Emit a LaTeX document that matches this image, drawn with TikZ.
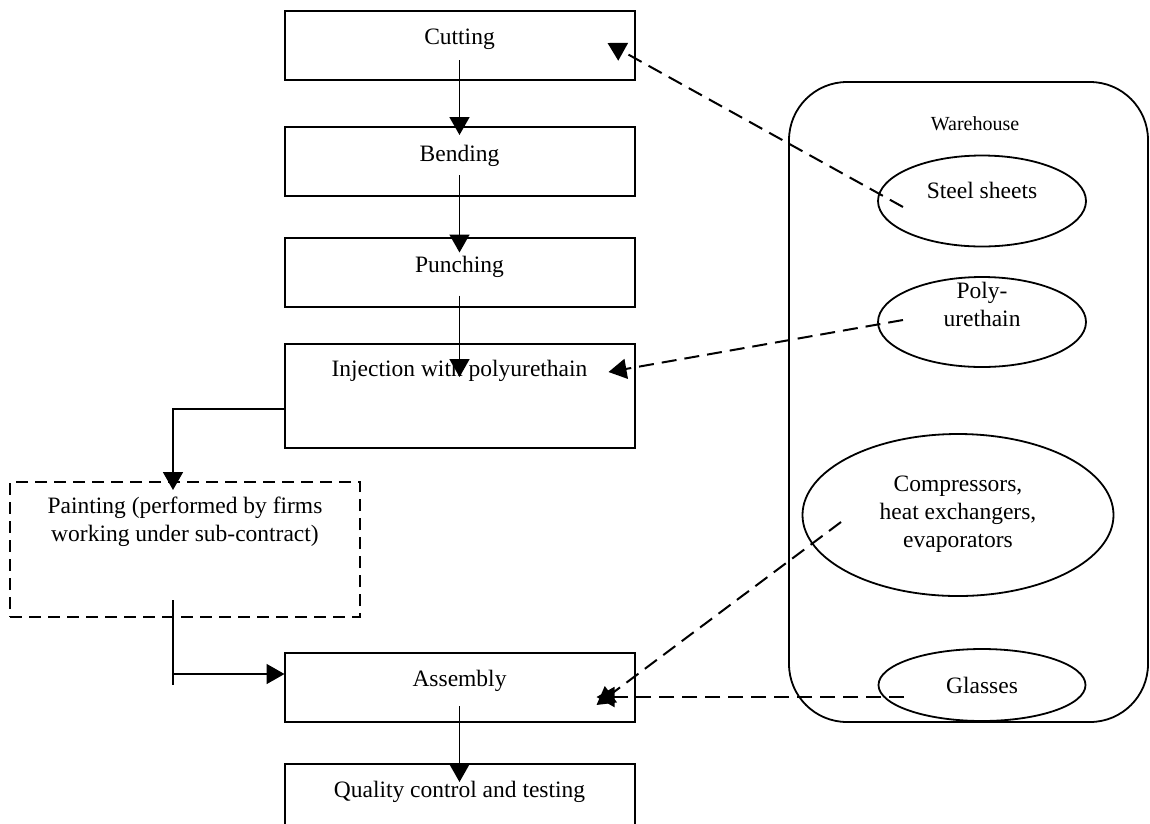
\documentclass[tikz,border=0pt]{standalone}
\usepackage{fontspec}
\setmainfont{Liberation Serif}
\usetikzlibrary{arrows.meta,shapes.geometric,calc}
\begin{document}
\begin{tikzpicture}[x=1pt,y=-1pt,
  box/.style={draw,line width=2pt,minimum width=350pt,minimum height=69pt,inner sep=0pt,outer sep=0pt},
  lbl/.style={font=\fontsize{23.5}{28}\selectfont,align=center,inner sep=0pt,anchor=base},
  small/.style={font=\fontsize{20}{24}\selectfont,inner sep=0pt,anchor=base},
  ell/.style={draw,ellipse,line width=1.8pt,inner sep=0pt,outer sep=0pt},
  flow/.style={line width=1.7pt,-{Triangle[length=18pt,width=20pt]}},
  supply/.style={flow,line width=2pt,dash pattern=on 15pt off 8pt},
]
\useasboundingbox (0,0) rectangle (1150,823);

% process boxes
\node[box] (cut)   at (459.5,45.5) {};
\node[box] (bend)  at (459.5,161.5) {};
\node[box] (punch) at (459.5,272) {};
\node[box,minimum height=104pt] (inj) at (459.5,396) {};
\node[box,minimum height=135pt,dash pattern=on 12pt off 7pt] (paint) at (185,549.5) {};
\node[box] (asm)   at (459.5,687.5) {};
\node[box,minimum height=72pt] (qc) at (459.5,800) {};

\node[lbl] (cutT)   at (459.5,44) {Cutting};
\node[lbl] (bendT)  at (459.5,161) {Bending};
\node[lbl] (punchT) at (459.5,272) {Punching};
\node[lbl] (injT)   at (459.5,376) {Injection with polyurethain};
\node[lbl] (paintT) at (185,541) {Painting (performed by firms\\working under sub-contract)};
\node[lbl] (asmT)   at (459.5,686) {Assembly};
\node[lbl] (qcT)    at (459.5,797) {Quality control and testing};

% warehouse
\draw[line width=1.8pt,rounded corners=58pt] (789,82) rectangle (1148,722);
\node[small] (wh) at (975,130) {Warehouse};
\node[ell,minimum width=208pt,minimum height=91pt] (steel) at (982,201) {};
\node[lbl] (steelT) at (982,198) {Steel sheets};
\node[ell,minimum width=208pt,minimum height=90pt] (poly) at (982,322) {};
\node[lbl] (polyT) at (982,326) {Poly-\\urethain};
\node[ell,minimum width=311pt,minimum height=162pt] (comp) at (958,515) {};
\node[lbl] (compT) at (958,547) {Compressors,\\heat exchangers,\\evaporators};
\node[ell,minimum width=207pt,minimum height=72pt] (glass) at (982,685) {};
\node[lbl] (glassT) at (982,693) {Glasses};

% main flow
\draw[flow] ($(cut.south)+(0,-20)$) -- ($(bend.north)+(0,8)$);
\draw[flow] ($(bend.south)+(0,-21)$) -- ($(punch.north)+(0,15)$);
\draw[flow] ($(punch.south)+(0,-11)$) -- ($(inj.north)+(0,33)$);
\draw[flow] ($(inj.north west)+(0,65)$) -| ($(paint.north)+(-12,8)$);
\draw[line width=1.7pt] ($(paint.south)+(-12,-17)$) -- ($(paint.south)+(-12,68)$);
\coordinate (pj) at ($(paint.south)+(-12,57)$);
\draw[flow] (pj) -- (pj -| asm.west);
\draw[flow] ($(asm.south)+(0,-16)$) -- ($(qc.north)+(0,18)$);

% supplies
\draw[supply] ($(steel.center)+(-79,6)$) -- ($(cut.north east)+(-27,32)$);
\draw[supply] ($(poly.center)+(-79,-2)$) -- ($(inj.north east)+(-26,28)$);
\draw[supply] ($(comp.center)+(-117,7)$) -- ($(asm.north east)+(-38,52)$);
\draw[supply] ($(glass.center)+(-78,12)$) -- ($(asm.north east)+(-38,44)$);
\end{tikzpicture}
\end{document}
